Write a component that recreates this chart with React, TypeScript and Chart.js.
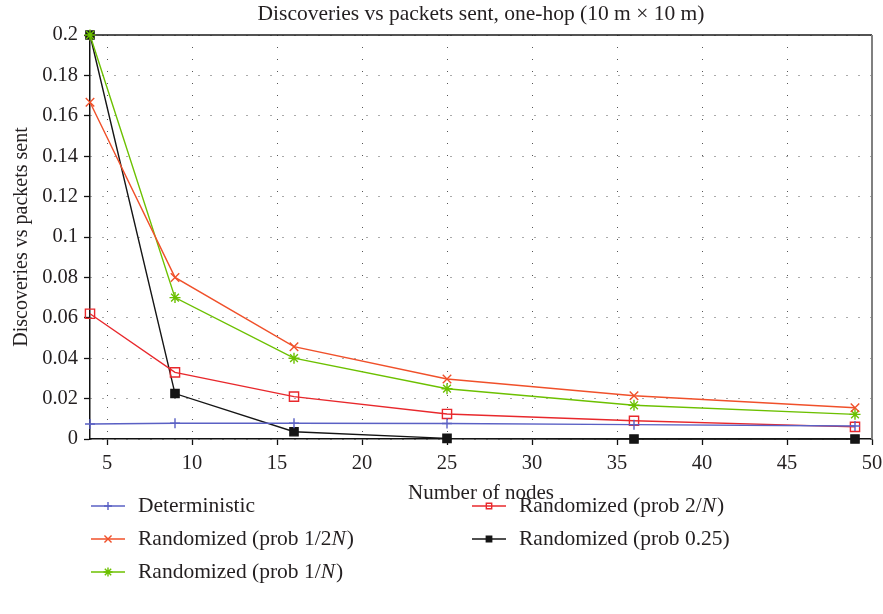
import React, { useEffect, useRef } from 'react';
import { Chart, registerables } from 'chart.js';
import { drawPoint } from 'chart.js/helpers';

Chart.register(...registerables);

// Number of nodes in the one-hop network
const nodes = [4, 9, 16, 25, 36, 49];

// Discoveries per packet sent for each protocol variant
const deterministic = [0.0074, 0.0078, 0.0078, 0.0077, 0.0071, 0.0064];
const probHalfN = [0.1667, 0.08, 0.0457, 0.0297, 0.0214, 0.0155];
const probOneN = [0.2, 0.07, 0.04, 0.0249, 0.0167, 0.0122];
const probTwoN = [0.062, 0.033, 0.021, 0.0124, 0.009, 0.006];
const probQuarter = [0.2, 0.0225, 0.0036, 0.0003, 0, 0];

const seriesLabels = [
  'Deterministic',
  'Randomized (prob 1/2N)',
  'Randomized (prob 1/N)',
  'Randomized (prob 2/N)',
  'Randomized (prob 0.25)',
];

const xTicks = [5, 10, 15, 20, 25, 30, 35, 40, 45, 50];
const yTicks = [0, 0.02, 0.04, 0.06, 0.08, 0.1, 0.12, 0.14, 0.16, 0.18, 0.2];
const yTickLabels = ['0', '0.02', '0.04', '0.06', '0.08', '0.1', '0.12', '0.14', '0.16', '0.18', '0.2'];

const FONT = "'Liberation Serif', 'Times New Roman', serif";
const TEXT = '#231f20';
const LEGEND_SIZE = 21.5;

const toPoints = (ys: number[]) => nodes.map((x, i) => ({ x, y: ys[i] }));

// legend slots: [x where the sample line starts, row centre y]
const legendSlots = [
  [91, 506],
  [91, 539],
  [91, 572],
  [472, 506],
  [472, 539],
];

function drawLabel(ctx: CanvasRenderingContext2D, label: string, x: number, y: number) {
  // italicise the variable N inside the parentheses
  const m = label.match(/^(.*?)(N)(\))$/);
  ctx.font = `${LEGEND_SIZE}px ${FONT}`;
  if (!m) {
    ctx.fillText(label, x, y);
    return;
  }
  ctx.fillText(m[1], x, y);
  let cx = x + ctx.measureText(m[1]).width;
  ctx.font = `italic ${LEGEND_SIZE}px ${FONT}`;
  ctx.fillText(m[2], cx, y);
  cx += ctx.measureText(m[2]).width + 1;
  ctx.font = `${LEGEND_SIZE}px ${FONT}`;
  ctx.fillText(m[3], cx, y);
}

const decorPlugin = {
  id: 'decor',
  beforeDatasetsDraw(chart: any) {
    const { ctx, chartArea: a } = chart;
    ctx.save();
    ctx.lineWidth = 1.5;
    ctx.strokeStyle = '#1a1a1a';
    ctx.beginPath();
    ctx.moveTo(a.left, a.top);
    ctx.lineTo(a.right, a.top);
    ctx.stroke();
    ctx.strokeStyle = '#808080';
    ctx.lineWidth = 2;
    ctx.beginPath();
    ctx.moveTo(a.right, a.top);
    ctx.lineTo(a.right, a.bottom);
    ctx.stroke();
    ctx.restore();
  },
  afterDraw(chart: any) {
    const { ctx, chartArea: a } = chart;
    ctx.save();
    ctx.fillStyle = TEXT;
    ctx.textAlign = 'center';
    ctx.textBaseline = 'middle';
    ctx.font = `21.5px ${FONT}`;
    ctx.fillText('Discoveries vs packets sent, one-hop (10 m \u00d7 10 m)', (a.left + a.right) / 2, 14);

    // legend
    chart.data.datasets.forEach((ds: any, i: number) => {
      const [lx, ly] = legendSlots[i];
      ctx.strokeStyle = ds.borderColor;
      ctx.lineWidth = 1.5;
      ctx.beginPath();
      ctx.moveTo(lx, ly);
      ctx.lineTo(lx + 34, ly);
      ctx.stroke();
      ctx.fillStyle = ds.pointBackgroundColor;
      ctx.strokeStyle = ds.pointBorderColor;
      ctx.lineWidth = ds.pointBorderWidth;
      drawPoint(ctx, {
        pointStyle: ds.pointStyle,
        rotation: 0,
        radius: ds.pointStyle === 'rect' ? 3.8 : ds.pointRadius - 1,
        borderWidth: ds.pointBorderWidth,
      }, lx + 17, ly);
      ctx.fillStyle = TEXT;
      ctx.textAlign = 'left';
      ctx.textBaseline = 'middle';
      drawLabel(ctx, ds.label, lx + 47, ly);
    });
    ctx.restore();
  },
};

function lineSet(label: string, ys: number[], color: string, style: string, radius: number, fill?: string) {
  return {
    label,
    data: toPoints(ys),
    borderColor: color,
    borderWidth: 1.4,
    pointStyle: style,
    pointRadius: radius,
    pointBorderColor: color,
    pointBackgroundColor: fill ?? color,
    pointBorderWidth: 1.4,
    tension: 0,
    clip: false as any,
  };
}

export default function App() {
  const ref = useRef<HTMLCanvasElement>(null);

  useEffect(() => {
    document.body.style.margin = '0';
    const canvas = ref.current;
    if (!canvas) return;
    const tickFont = { family: FONT, size: 20.5 };
    const chart = new Chart(canvas, {
      type: 'line',
      data: {
        datasets: [
          lineSet(seriesLabels[0], deterministic, '#5a60c4', 'cross', 5),
          lineSet(seriesLabels[1], probHalfN, '#f0502a', 'crossRot', 6),
          lineSet(seriesLabels[2], probOneN, '#6cc000', 'star', 5.5),
          lineSet(seriesLabels[3], probTwoN, '#e8282c', 'rect', 6.5, 'rgba(255,255,255,0)'),
          lineSet(seriesLabels[4], probQuarter, '#151515', 'rect', 5.8),
        ] as any,
      },
      options: {
        responsive: false,
        animation: false,
        layout: { padding: { top: 35, right: 11, bottom: 105, left: 0 } },
        plugins: {
          legend: { display: false },
          title: { display: false },
          tooltip: { enabled: false },
        },
        scales: {
          x: {
            type: 'linear',
            min: 4,
            max: 50,
            afterBuildTicks: (s: any) => {
              s.ticks = xTicks.map((v) => ({ value: v }));
            },
            afterFit: (s: any) => {
              s.height = 70;
              s.paddingLeft = 0;
              s.paddingRight = 0;
            },
            grid: {
              color: '#555',
              lineWidth: 1,
              drawTicks: true,
              tickLength: 6,
              tickColor: '#111',
              tickWidth: 1.3,
            },
            border: { display: true, color: '#111', width: 1.5, dash: [1, 11] },
            ticks: { color: TEXT, font: tickFont, padding: 6, maxRotation: 0, autoSkip: false },
            title: {
              display: true,
              text: 'Number of nodes',
              color: TEXT,
              font: { family: FONT, size: 21 },
              padding: { top: 0, bottom: 3 },
            },
          },
          y: {
            type: 'linear',
            min: 0,
            max: 0.2,
            afterBuildTicks: (s: any) => {
              s.ticks = yTicks.map((v) => ({ value: v }));
            },
            afterFit: (s: any) => {
              s.width = 90;
              s.paddingTop = 0;
              s.paddingBottom = 0;
            },
            grid: {
              color: '#555',
              lineWidth: 1,
              drawTicks: true,
              tickLength: 6,
              tickColor: '#111',
              tickWidth: 1.3,
            },
            border: { display: true, color: '#111', width: 1.5, dash: [1, 11] },
            ticks: {
              color: TEXT,
              font: tickFont,
              padding: 6,
              autoSkip: false,
              callback: (_v: any, i: number) => yTickLabels[i],
            },
            title: {
              display: true,
              text: 'Discoveries vs packets sent',
              color: TEXT,
              font: { family: FONT, size: 20 },
              padding: { top: 10, bottom: 0 },
            },
          },
        },
      },
      plugins: [decorPlugin],
    });
    return () => chart.destroy();
  }, []);

  return <canvas ref={ref} width={883} height={614} style={{ display: 'block' }} />;
}
